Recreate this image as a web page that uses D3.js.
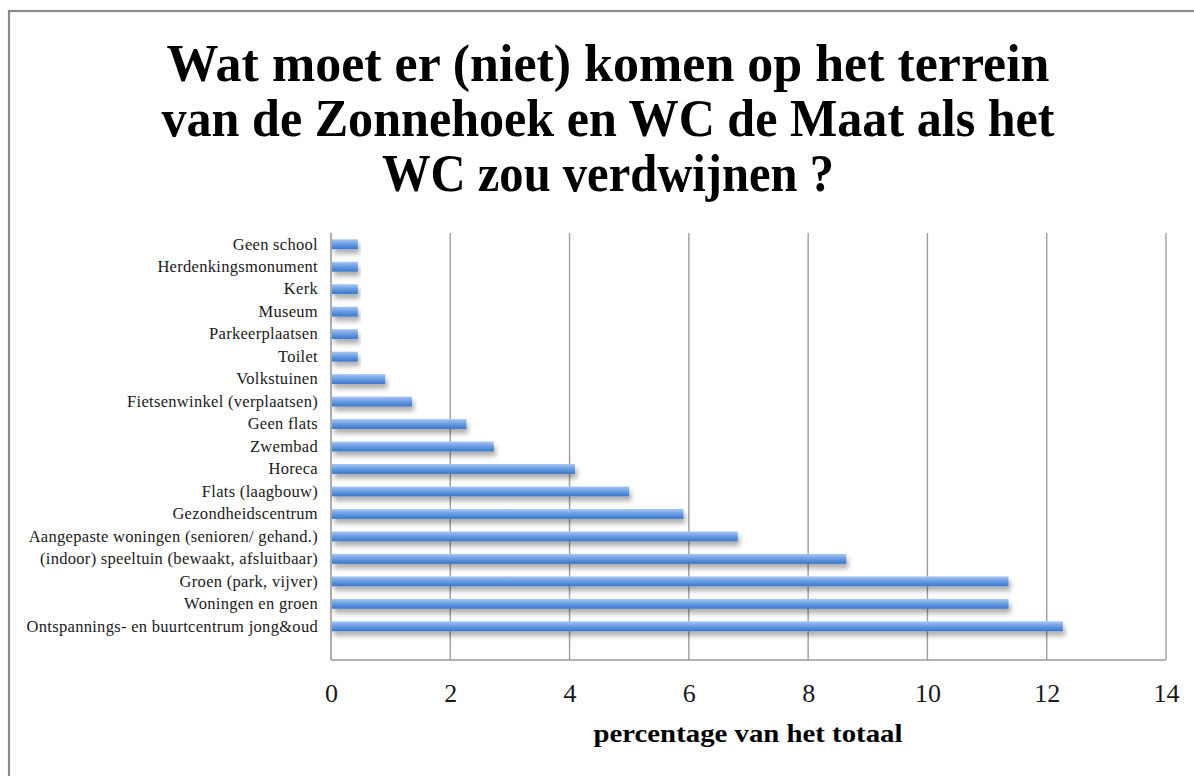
<!DOCTYPE html>
<html>
<head>
<meta charset="utf-8">
<script src="https://cdn.jsdelivr.net/npm/d3@7"></script>
<style>
  html, body { margin: 0; padding: 0; background: #fff; }
  svg { display: block; }
</style>
</head>
<body>
<script>
// ---- data ----
const categories = [
  "Geen school",
  "Herdenkingsmonument",
  "Kerk",
  "Museum",
  "Parkeerplaatsen",
  "Toilet",
  "Volkstuinen",
  "Fietsenwinkel (verplaatsen)",
  "Geen flats",
  "Zwembad",
  "Horeca",
  "Flats (laagbouw)",
  "Gezondheidscentrum",
  "Aangepaste woningen (senioren/ gehand.)",
  "(indoor) speeltuin (bewaakt, afsluitbaar)",
  "Groen (park, vijver)",
  "Woningen en groen",
  "Ontspannings- en buurtcentrum jong&oud"
];
const values = [
  0.45, 0.45, 0.45, 0.45, 0.45, 0.45,
  0.91, 1.36, 2.27, 2.73, 4.09, 5.0,
  5.91, 6.82, 8.64, 11.36, 11.36, 12.27
];
const xTicks = [0, 2, 4, 6, 8, 10, 12, 14];
const titleLines = [
  "Wat moet er (niet) komen op het terrein",
  "van de Zonnehoek en WC de Maat als het",
  "WC zou verdwijnen ?"
];
const xAxisTitle = "percentage van het totaal";

// ---- layout ----
const W = 1194, H = 776;
const plot = { left: 331, right: 1166, top: 233, bottom: 660 };
const serif = "'Liberation Serif', 'DejaVu Serif', serif";

const svg = d3.select("body").append("svg")
  .attr("width", W).attr("height", H);

const defs = svg.append("defs");
const grad = defs.append("linearGradient")
  .attr("id", "barGrad").attr("x1", 0).attr("y1", 0).attr("x2", 0).attr("y2", 1);
grad.append("stop").attr("offset", "0%").attr("stop-color", "#a8c8f3");
grad.append("stop").attr("offset", "45%").attr("stop-color", "#6d9fe4");
grad.append("stop").attr("offset", "100%").attr("stop-color", "#3a77cc");

const shadow = defs.append("filter").attr("id", "shadow")
  .attr("x", "-5%").attr("y", "-50%").attr("width", "115%").attr("height", "260%");
shadow.append("feDropShadow")
  .attr("dx", 2).attr("dy", 4.5).attr("stdDeviation", 2.5)
  .attr("flood-color", "#000").attr("flood-opacity", 0.32);

// outer frame
svg.append("rect")
  .attr("x", 9).attr("y", 11).attr("width", W + 20).attr("height", H + 20)
  .attr("fill", "none").attr("stroke", "#8a8a8a").attr("stroke-width", 2.2);

// title
const titleY = [81, 136, 191];
const titleWidths = [883, 893, 452];
svg.append("g").selectAll("text").data(titleLines).join("text")
  .attr("x", 608)
  .attr("y", (d, i) => titleY[i])
  .attr("text-anchor", "middle")
  .attr("font-family", serif)
  .attr("font-weight", "bold")
  .attr("font-size", 53)
  .attr("fill", "#000")
  .attr("textLength", (d, i) => titleWidths[i])
  .attr("lengthAdjust", "spacingAndGlyphs")
  .text(d => d);

// scales
const x = d3.scaleLinear().domain([0, 14]).range([plot.left, plot.right]);
const step = (plot.bottom - plot.top) / (categories.length + 1);
const y = d3.scaleBand()
  .domain(categories)
  .range([plot.top, plot.top + step * categories.length])
  .paddingInner(0.56).paddingOuter(0.28);

// gridlines
svg.append("g").selectAll("line").data(xTicks.filter(t => t > 0)).join("line")
  .attr("x1", d => x(d)).attr("x2", d => x(d))
  .attr("y1", plot.top).attr("y2", plot.bottom)
  .attr("stroke", "#9e9e9e").attr("stroke-width", 1.4);

// axes lines
svg.append("line")
  .attr("x1", plot.left).attr("x2", plot.left)
  .attr("y1", plot.top).attr("y2", plot.bottom)
  .attr("stroke", "#9a9a9a").attr("stroke-width", 1.6);
svg.append("line")
  .attr("x1", plot.left).attr("x2", plot.right)
  .attr("y1", plot.bottom).attr("y2", plot.bottom)
  .attr("stroke", "#9a9a9a").attr("stroke-width", 1.6);

// bars
svg.append("g").selectAll("rect").data(categories).join("rect")
  .attr("x", x(0) + 1)
  .attr("y", d => y(d))
  .attr("width", (d, i) => x(values[i]) - x(0) - 1)
  .attr("height", y.bandwidth())
  .attr("fill", "url(#barGrad)")
  .attr("filter", "url(#shadow)");

// category labels (y axis)
const yAxis = d3.axisLeft(y).tickSize(0).tickPadding(13);
const yg = svg.append("g").attr("transform", `translate(${plot.left},0)`).call(yAxis);
yg.select(".domain").remove();
yg.selectAll("text")
  .attr("font-family", serif)
  .attr("font-size", 16.5)
  .attr("letter-spacing", 0.3)
  .attr("fill", "#1a1a1a");

// x axis tick labels
const xAxis = d3.axisBottom(x).tickValues(xTicks).tickSize(0).tickPadding(24)
  .tickFormat(d3.format("d"));
const xg = svg.append("g").attr("transform", `translate(0,${plot.bottom})`).call(xAxis);
xg.select(".domain").remove();
xg.selectAll("text")
  .attr("font-family", serif)
  .attr("font-size", 26)
  .attr("fill", "#1a1a1a");

// x axis title
svg.append("text")
  .attr("x", 748).attr("y", 742)
  .attr("text-anchor", "middle")
  .attr("font-family", serif)
  .attr("font-weight", "bold")
  .attr("font-size", 25)
  .attr("textLength", 309)
  .attr("lengthAdjust", "spacingAndGlyphs")
  .attr("fill", "#000")
  .text(xAxisTitle);
</script>
</body>
</html>
